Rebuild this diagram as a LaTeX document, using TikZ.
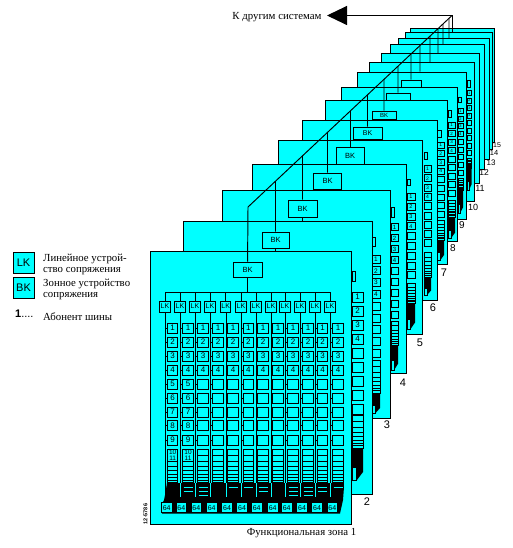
\documentclass[tikz,border=0pt]{standalone}
\usepackage{fontspec}
\setmainfont{Liberation Serif}
\setsansfont{Liberation Sans}
\usepackage{xcolor}
\usepackage{tikz}
\usetikzlibrary{arrows.meta,calc}
\definecolor{zonecyan}{HTML}{00FFFF}
\tikzset{
    wire/.style={line width=0.95pt,black},
    sheet/.style={wire,fill=zonecyan},
    cell/.style={wire,fill=zonecyan,inner sep=0pt,font=\sffamily},
    sheetnum/.style={inner sep=0pt,font=\sffamily},
    keytext/.style={anchor=west,align=left,inner sep=0pt,font=\fontsize{10.8}{10.4}\selectfont}
}
\def\lkcols{1/165/172.7/166.7,2/180/188/181.3,3/195/203/196.3,4/210/218/211.7,5/225.7/233/227,6/241/248.3/242,7/256/263/256.7,8/271/278/272.7,9/285/293/286.7,10/300/308/302,11/315/322.7/317,12/330/338/332.3}
\begin{document}
\begin{tikzpicture}[x=1pt,y=-1pt]
    \useasboundingbox (0,0) rectangle (513,548);
    \coordinate (corner) at (248,207);
    \coordinate (apex) at (452,15.5);
    \coordinate (arrowtip) at (327,15.5);
    \foreach \zl/\zt/\zr/\zb in {410/28/494/142,405/32/492/149,398/38/489/159,390/44/484/169,381/53/479/183}{
        \draw[sheet] (\zl,\zt) rectangle (\zr,\zb);
    }
    \foreach \zn/\zl/\zt/\zr/\zb/\kx/\ky/\kw/\kh/\kf/\sx/\sw/\sh/\ta/\tb/\sy/\sd/\st/\sk/\se/\sq in {
        10/369/62/474/201/420/76/20/8/5/467/4.5/5/80/87/93/7.5/158/168/190/3.5,
        9/357/72/466/219/411/83.5/20/7/5/458/5/5/97/102/111/7.7/178/190/213/4,
        8/341/87/457/241/398/96.5/24/7/5/448/7/6/110/117/125/8.5/200/217/238/4.5,
        7/325/100/447/264/384/115/24/8/6/437.5/6.5/6/130/137/145/8.7/220/240/260/5,
        6/302/120/437/300/367.5/133/29/12/7/424/7/7/152/159/169/9.3/252/277/295/5,
        5/278/140/422/334/350/155.5/28/17/7.5/407/8/7/179/185/197/9.8/283/303/329/5.5,
        4/252/164/406/373/327.5/181/28/16/7.5/391/7/7/207/217/227/11/321/345/370/6,
        3/222/190/390/418/302.5/208.5/29/17/7.5/372/8/8/237/246/259/11.8/360/393/413/6.5,
        2/183/221/372/494/275.5/240/27/16/7.5/352/11/10/271/281/297/14/415/448/480/8}{
        \draw[sheet] (\zl,\zt) rectangle (\zr,\zb);
        \node[cell,draw,minimum width=\kw,minimum height=\kh,font=\sffamily\fontsize{\kf}{\kf}\selectfont] (bk\zn) at (\kx,\ky) {\ifnum\zn<8 BK\fi};
        \draw[wire] (bk\zn) -- ++(0,40);
        \draw[wire] (\sx,\ta) rectangle ({\sx+3.5},\tb);
        \foreach \i in {0,...,8}{
            \pgfmathsetmacro\yy{\sy+\i*\sd}
            \node[cell,draw,minimum width=\sw,minimum height=\sh,font=\sffamily\fontsize{\sq}{\sq}\selectfont] (s\zn r\i) at ({\sx+\sw/2},\yy) {\ifnum\i<4 \pgfmathparse{int(\i+1)}\pgfmathresult\fi};
        }
        \draw[wire] (\sx,\st) rectangle ({\sx+\sw},\sk);
        \foreach \f in {0.2,0.38,0.53,0.66,0.76,0.85,0.92}{
            \pgfmathsetmacro\yy{\st+\f*(\sk-\st)}
            \draw[wire] (\sx,\yy) -- ({\sx+\sw},\yy);
        }
        \pgfmathsetmacro\ym{\sk+0.62*(\se-\sk)}
        \pgfmathsetmacro\yn{\sk+0.75*(\se-\sk)}
        \draw[wire] (\sx,\ym) rectangle ({\sx+0.45*\sw},\se);
        \fill[black] (\sx,\sk) -- ({\sx+\sw},\sk) -- ({\sx+\sw},\yn) -- ({\sx+0.45*\sw},\se) -- ({\sx+0.45*\sw},\ym) -- (\sx,\ym) -- cycle;
    }

    \draw[sheet] (150,251) rectangle (351.5,524);
    \node[cell,draw,minimum width=29,minimum height=15,font=\sffamily\fontsize{7.5}{7.5}\selectfont] (bk1) at (247.5,269.5) {BK};
    \coordinate (bus) at (248,292);
    \foreach \c/\lx/\bx/\ex in \lkcols{
        \node[cell,draw,minimum width=10.4,minimum height=11,font=\sffamily\fontsize{7}{7}\selectfont] (lk\c) at (\lx,306.5) {LK};
        \draw[wire] (lk\c) -- (lk\c |- bus);
        \coordinate (drop\c) at ({\lx+0.8},312);
        \draw[wire] (drop\c) -- ({\lx+0.8},503);
        \foreach \i/\yy in {1/328,2/342,3/356,4/370,5/384,6/398,7/412,8/425.5,9/440}{
            \pgfmathtruncatemacro\lim{\c<3 ? 9 : 4}
            \node[cell,draw,minimum width=10.2,minimum height=10,font=\sffamily\fontsize{8}{8}\selectfont] (c\c r\i) at (\bx,\yy) {\ifnum\i>\lim\else\i\fi};
            \draw[wire] (drop\c |- c\c r\i.west) -- (c\c r\i.west);
        }
        \draw[wire] ({\bx-5.1},449) rectangle ({\bx+5.1},485);
        \foreach \yy in {455,461,466,470,474,477,480,482.5}{
            \draw[wire] ({\bx-5.1},\yy) -- ({\bx+5.1},\yy);
        }
    }
    \draw[wire] (lk1 |- bus) -- (lk12 |- bus);
    \draw[wire] (bk1) -- (bk1 |- bus);
    \foreach \c/\bx in {1/172.7,2/188}{
        \fill[zonecyan] ({\bx-4.6},449.6) rectangle ({\bx+4.6},460.5);
        \draw[wire] ({\bx-5.1},461) -- ({\bx+5.1},461);
        \node[inner sep=0pt,font=\sffamily\fontsize{6.5}{6.5}\selectfont] (ten\c) at (\bx,452.7) {10};
        \node[inner sep=0pt,font=\sffamily\fontsize{6.5}{6.5}\selectfont] (eleven\c) at (\bx,458.5) {11};
    }
    \fill[black] (165,495) -- (167,483) -- (343,483) -- (344,487) -- (343,500) -- (340,513.5) -- (162,513.5) -- (161,506) -- (164,500) -- cycle;
    \foreach \c/\lx/\bx/\ex in \lkcols{
        \ifnum\c>1
            \draw[zonecyan,line width=0.8pt] ({\lx+0.8},483) -- ({\lx+0.8},497);
        \fi
    }
    \foreach \bx/\yy in {188/487,188/491,203/487,203/491,203/495,233/487,248.3/487,263/487,263/491,293/487,293/491,293/495,308/487,308/491,308/495,322.7/487,322.7/491,338/487}{
        \draw[zonecyan,line width=0.8pt] ({\bx-4.5},\yy) -- ({\bx+4.5},\yy);
    }
    \foreach \c/\lx/\bx/\ex in \lkcols{
        \node[cell,draw,minimum width=10.6,minimum height=10.6,font=\sffamily\fontsize{7}{7}\selectfont] (end\c) at (\ex,507.6) {64};
    }

    \foreach \zn/\bx/\by in {11/430/62,12/438/53,13/443/44,14/449/38,15/452/32}{
        \coordinate (bk\zn) at (\bx,\by);
    }
    \draw[wire] (corner) -- (bk1);
    \draw[wire] (corner) -- (apex);
    \foreach \zn/\bx in {2/275.5,3/302.5,4/327.5,5/350,6/367.5,7/384,8/398,9/411,10/420,11/430,12/438,13/443,14/449,15/452}{
        \coordinate (tap\zn) at ($(corner)!{(\bx-248)/204}!(apex)$);
        \draw[wire] (tap\zn) -- (bk\zn);
    }
    \draw[wire,-{Triangle[length=20pt,width=19pt]}] (apex) -- (arrowtip);

    \foreach \zn/\x/\y/\f in {2/367/502/11,3/387/425/11,4/403/383/11,5/420/343/11,6/433/308/11,7/444/273/11,8/453/248/10,9/462/225/10,10/473/207/9,11/480/188/9,12/484/173/8.5,13/491/163/8,14/494/153/7.5,15/497/145/7}{
        \node[sheetnum,font=\sffamily\fontsize{\f}{\f}\selectfont] (num\zn) at (\x,\y) {\zn};
    }
    \node[inner sep=0pt,font=\fontsize{10.8}{10.8}\selectfont] (zonetitle) at (301.5,533) {Функциональная зона 1};
    \node[inner sep=0pt,font=\fontsize{10.8}{10.8}\selectfont] (othersys) at (277,17) {К другим системам};
    \node[inner sep=0pt,rotate=90,font=\sffamily\bfseries\fontsize{5.5}{5.5}\selectfont] (drawno) at (145.5,514) {12-5786};

    \node[cell,draw,line width=0.5pt,minimum width=21,minimum height=21,font=\sffamily\fontsize{11}{11}\selectfont] (keylk) at (23.5,262.5) {LK};
    \node[cell,draw,line width=0.5pt,minimum width=21,minimum height=21,font=\sffamily\fontsize{11}{11}\selectfont] (keybk) at (23.5,288) {BK};
    \node[keytext] (keylktext) at (43,264.5) {Линейное устрой-\\ство сопряжения};
    \node[keytext] (keybktext) at (43,289.5) {Зонное устройство\\сопряжения};
    \node[inner sep=0pt,anchor=west,font=\sffamily\fontsize{11}{11}\selectfont] (keysub) at (15,314) {\textbf{1}....};
    \node[keytext] (keysubtext) at (43,317) {Абонент шины};
\end{tikzpicture}
\end{document}
